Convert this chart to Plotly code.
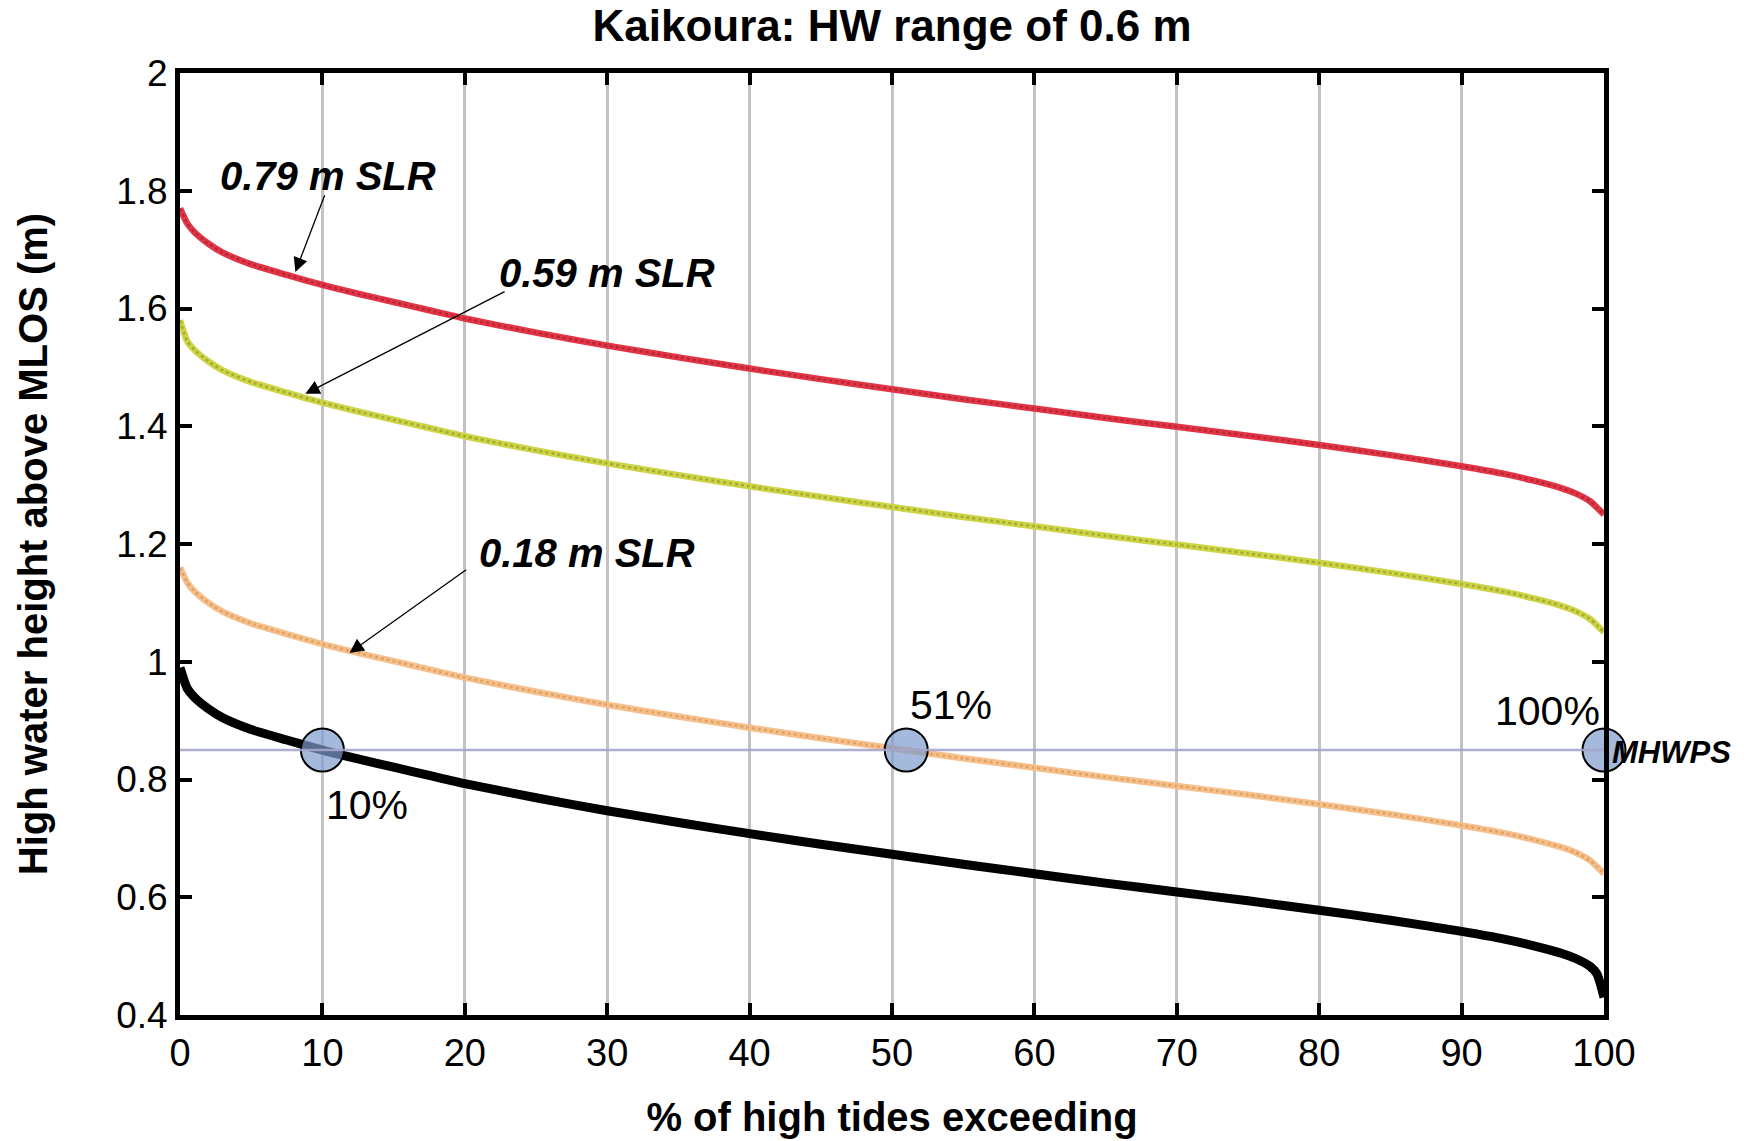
import plotly.graph_objects as go

# Percent of high tides exceeding a given height
pct = [0, 0.5, 1, 2, 3, 5, 7.5, 10, 12.5, 15, 17.5, 20, 25, 30, 35, 40, 45, 50,
       55, 60, 65, 70, 75, 80, 85, 90, 93, 95, 97, 98, 99, 99.5, 100]

# High water height above MLOS (m), present day
hw_present = [0.99, 0.955, 0.94, 0.92, 0.905, 0.885, 0.867, 0.85, 0.835, 0.821,
              0.807, 0.793, 0.769, 0.747, 0.727, 0.708, 0.69, 0.673, 0.656, 0.64,
              0.624, 0.609, 0.594, 0.578, 0.561, 0.542, 0.529, 0.518, 0.505,
              0.496, 0.483, 0.47, 0.43]
# With 0.18 m sea-level rise
hw_slr018 = [1.16, 1.135, 1.12, 1.10, 1.085, 1.065, 1.047, 1.03, 1.015, 1.001,
             0.987, 0.973, 0.949, 0.927, 0.907, 0.888, 0.87, 0.853, 0.836, 0.82,
             0.804, 0.789, 0.774, 0.758, 0.741, 0.722, 0.709, 0.698, 0.685,
             0.676, 0.663, 0.652, 0.64]
# With 0.59 m sea-level rise
hw_slr059 = [1.58, 1.545, 1.53, 1.51, 1.495, 1.475, 1.457, 1.44, 1.425, 1.411,
             1.397, 1.383, 1.359, 1.337, 1.317, 1.298, 1.28, 1.263, 1.246, 1.23,
             1.214, 1.199, 1.184, 1.168, 1.151, 1.132, 1.119, 1.108, 1.095,
             1.086, 1.073, 1.062, 1.05]
# With 0.79 m sea-level rise
hw_slr079 = [1.77, 1.745, 1.73, 1.71, 1.695, 1.675, 1.657, 1.64, 1.625, 1.611,
             1.597, 1.583, 1.559, 1.537, 1.517, 1.498, 1.48, 1.463, 1.446, 1.43,
             1.414, 1.399, 1.384, 1.368, 1.351, 1.332, 1.319, 1.308, 1.295,
             1.286, 1.273, 1.262, 1.25]

mhwps = 0.85
cross_pct = [10, 51, 100]
cross_labels = ["10%", "51%", "100%"]

x_ticks = [0, 10, 20, 30, 40, 50, 60, 70, 80, 90, 100]
y_ticks = [0.4, 0.6, 0.8, 1.0, 1.2, 1.4, 1.6, 1.8, 2.0]
y_ticklabels = ["0.4", "0.6", "0.8", "1", "1.2", "1.4", "1.6", "1.8", "2"]

# SLR curves: (values, base colour, dot colour, label, arrow head, arrow tail, label position)
slr_curves = [
    (hw_slr079, "#e23545", "#8e1a2c", "0.79 m SLR", (8.1, 1.662), (10.2, 1.795), (10.4, 1.825)),
    (hw_slr059, "#cdd445", "#7f8422", "0.59 m SLR", (8.8, 1.455), (22.9, 1.630), (30.0, 1.660)),
    (hw_slr018, "#f7bf8a", "#c48a4a", "0.18 m SLR", (11.9, 1.015), (20.2, 1.158), (28.6, 1.185)),
]

fig = go.Figure()

for vals, base_col, dot_col, _, _, _, _ in slr_curves:
    fig.add_trace(go.Scatter(x=pct, y=vals, mode="lines",
                             line=dict(color=base_col, width=6.5, shape="spline", smoothing=0.6),
                             hoverinfo="skip", showlegend=False))
    fig.add_trace(go.Scatter(x=pct, y=vals, mode="lines",
                             line=dict(color=dot_col, width=2.5, dash="dot",
                                       shape="spline", smoothing=0.6),
                             opacity=0.5, hoverinfo="skip", showlegend=False))

fig.add_trace(go.Scatter(x=pct, y=hw_present, mode="lines",
                         line=dict(color="black", width=9, shape="spline", smoothing=0.6),
                         hoverinfo="skip", showlegend=False))

# MHWPS reference level
fig.add_shape(type="line", xref="x", yref="y", x0=0, x1=100, y0=mhwps, y1=mhwps,
              line=dict(color="rgba(165,165,205,0.9)", width=2.5), layer="above")

# Crossing points of MHWPS
fig.add_trace(go.Scatter(x=cross_pct, y=[mhwps] * len(cross_pct), mode="markers",
                         marker=dict(size=43, color="rgba(125,155,205,0.7)",
                                     line=dict(color="black", width=2)),
                         cliponaxis=False, hoverinfo="skip", showlegend=False))

label_font = dict(family="Liberation Sans Narrow, Arial Narrow, Liberation Sans", size=41, color="black")
fig.add_annotation(x=cross_pct[0], y=mhwps, text=cross_labels[0], showarrow=False,
                   xanchor="left", yanchor="top", xshift=2, yshift=-30, font=label_font)
fig.add_annotation(x=cross_pct[1], y=mhwps, text=cross_labels[1], showarrow=False,
                   xanchor="left", yanchor="bottom", xshift=2, yshift=20, font=label_font)
fig.add_annotation(x=cross_pct[2], y=mhwps, text=cross_labels[2], showarrow=False,
                   xanchor="right", yanchor="bottom", xshift=-2, yshift=14, font=label_font)

fig.add_annotation(x=100, y=mhwps, text="<b><i>MHWPS</i></b>", showarrow=False,
                   xanchor="left", yanchor="middle", xshift=6, yshift=-2,
                   font=dict(family="Liberation Sans", size=31, color="black"))

ann_font = dict(family="Liberation Sans", size=40, color="black")
for _, _, _, label, head, tail, lab in slr_curves:
    fig.add_annotation(x=head[0], y=head[1], ax=tail[0], ay=tail[1],
                       xref="x", yref="y", axref="x", ayref="y", text="",
                       showarrow=True, arrowhead=2, arrowsize=2.2, arrowwidth=1.3,
                       arrowcolor="black")
    fig.add_annotation(x=lab[0], y=lab[1], text="<b><i>" + label + "</i></b>",
                       showarrow=False, xanchor="center", yanchor="middle", font=ann_font)

fig.update_layout(
    width=1756, height=1141,
    margin=dict(l=180, r=152, t=73, b=126),
    paper_bgcolor="white", plot_bgcolor="white",
    title=dict(text="<b>Kaikoura: HW range of 0.6 m</b>", x=0.508, xanchor="center",
               y=0.978, yanchor="middle",
               font=dict(family="Liberation Sans", size=44, color="black")),
    font=dict(family="Liberation Sans", color="black"),
)

fig.update_xaxes(
    range=[0, 100], tickvals=x_ticks, ticktext=[str(v) for v in x_ticks],
    showgrid=True, gridcolor="#c4c4c4", gridwidth=2.5,
    showline=True, linecolor="black", linewidth=5, mirror="ticks",
    ticks="inside", ticklen=12, tickwidth=4, tickcolor="black",
    tickfont=dict(size=38, family="Liberation Sans"),
    zeroline=False, automargin=False,
    title=dict(text="<b>% of high tides exceeding</b>", standoff=32,
               font=dict(size=40, family="Liberation Sans")),
)
fig.update_yaxes(
    range=[0.4, 2.0], tickvals=y_ticks, ticktext=y_ticklabels,
    showgrid=False,
    showline=True, linecolor="black", linewidth=5, mirror="ticks",
    ticks="inside", ticklen=12, tickwidth=4, tickcolor="black",
    tickfont=dict(size=37, family="Liberation Sans"),
    zeroline=False, automargin=False,
    title=dict(text="<b>High water height above MLOS (m)</b>", standoff=58,
               font=dict(size=40, family="Liberation Sans")),
)

fig.write_html("out.html")
